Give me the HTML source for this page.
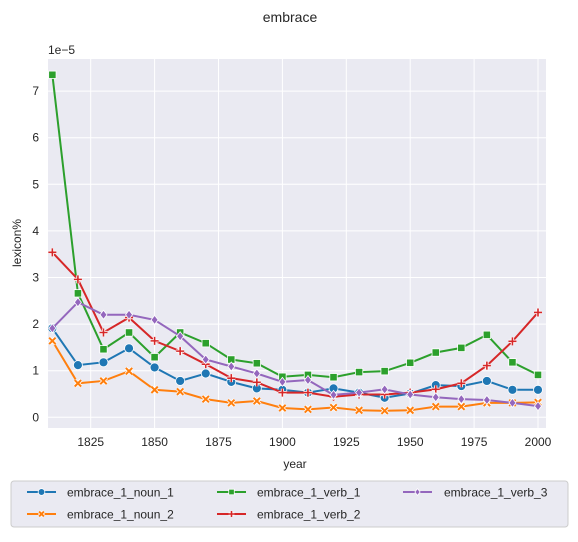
<!DOCTYPE html>
<html><head><meta charset="utf-8">
<style>
body{margin:0;background:#fff;font-family:"Liberation Sans",Arial,sans-serif;}
svg text{font-family:"Liberation Sans",Arial,sans-serif;fill:#262626;}
</style></head>
<body>
<svg id="chart" width="578" height="537" xmlns="http://www.w3.org/2000/svg">
<text x="290" y="22" font-size="14" text-anchor="middle">embrace</text>
<rect x="48" y="59" width="498" height="369" fill="#eaeaf2"/>
<g id="grid"></g>
<g id="series"></g>
<text x="48" y="54" font-size="12">1e−5</text>
<text x="0" y="0" font-size="12" text-anchor="middle" transform="translate(21,243) rotate(-90)">lexicon%</text>
<text x="295" y="468" font-size="12" text-anchor="middle">year</text>
<rect x="11" y="481" width="557" height="46" rx="3" fill="#eaeaf2" stroke="#cccccc"/>
<g id="legend"></g>
</svg>
<script>
const years=[1810,1820,1830,1840,1850,1860,1870,1880,1890,1900,1910,1920,1930,1940,1950,1960,1970,1980,1990,2000];
const noun1=[1.91,1.12,1.18,1.48,1.07,0.78,0.94,0.76,0.62,0.59,0.53,0.62,0.53,0.42,0.51,0.69,0.67,0.78,0.59,0.59];
const noun2=[1.64,0.73,0.78,0.99,0.59,0.55,0.39,0.31,0.35,0.20,0.17,0.21,0.15,0.14,0.15,0.23,0.23,0.31,0.31,0.32];
const verb1=[7.35,2.66,1.46,1.82,1.29,1.82,1.59,1.24,1.16,0.87,0.91,0.86,0.97,0.99,1.17,1.39,1.49,1.77,1.18,0.91];
const verb2=[3.54,2.96,1.82,2.14,1.64,1.42,1.14,0.84,0.75,0.53,0.53,0.44,0.49,0.49,0.53,0.60,0.73,1.11,1.63,2.25];
const verb3=[1.91,2.47,2.20,2.20,2.09,1.74,1.24,1.09,0.94,0.76,0.80,0.48,0.53,0.60,0.49,0.43,0.39,0.37,0.31,0.24];
const xTicks=[1825,1850,1875,1900,1925,1950,1975,2000];
const yTicks=[0,1,2,3,4,5,6,7];
const seriesNames=["embrace_1_noun_1","embrace_1_noun_2","embrace_1_verb_1","embrace_1_verb_2","embrace_1_verb_3"];

const NS="http://www.w3.org/2000/svg";
function X(v){return 90.7+(v-1825)*2.556;}
function Y(v){return 417.3-v*46.6;}
function mk(tag,attrs,parent){const e=document.createElementNS(NS,tag);for(const k in attrs)e.setAttribute(k,attrs[k]);parent.appendChild(e);return e;}
const grid=document.getElementById('grid'),svg=document.getElementById('chart');
xTicks.forEach(t=>{
 const l=mk('line',{x1:X(t),x2:X(t),y1:59,y2:428,stroke:'#fff','stroke-width':1},grid);
 
 
 const tx=mk('text',{x:X(t),y:446,'font-size':12,'text-anchor':'middle'},svg);
 tx.textContent=t;
 
 
});
yTicks.forEach(t=>{
 const l=mk('line',{x1:48,x2:546,y1:Y(t),y2:Y(t),stroke:'#fff','stroke-width':1},grid);
 
 
 const tx=mk('text',{x:39,y:Y(t)+4,'font-size':12,'text-anchor':'end'},svg);
 tx.textContent=t;
 
 
});
const colors=['#1f77b4','#ff7f0e','#2ca02c','#d62728','#9467bd'];
const markers=['circle','x','square','plus','diamond'];
function marker(g,type,x,y,c,s){
 if(type==='circle')return mk('circle',{cx:x,cy:y,r:4.5*s,fill:c,stroke:'#fff','stroke-width':0.8},g);
 if(type==='square')return mk('rect',{x:x-3.7*s,y:y-3.7*s,width:7.4*s,height:7.4*s,fill:c,stroke:'#fff','stroke-width':0.8},g);
 if(type==='diamond')return mk('path',{d:`M${x},${y-4.5*s}L${x+3.5*s},${y}L${x},${y+4.5*s}L${x-3.5*s},${y}Z`,fill:c,stroke:'#fff','stroke-width':0.8},g);
 const d=4*s;
 if(type==='plus'){mk('path',{d:`M${x-d},${y}H${x+d}M${x},${y-d}V${y+d}`,stroke:'#fff','stroke-width':3.2},g);return mk('path',{d:`M${x-d},${y}H${x+d}M${x},${y-d}V${y+d}`,stroke:c,'stroke-width':1.6},g);}
 const e=d*0.8;
 mk('path',{d:`M${x-e},${y-e}L${x+e},${y+e}M${x-e},${y+e}L${x+e},${y-e}`,stroke:'#fff','stroke-width':3.6},g);
 return mk('path',{d:`M${x-e},${y-e}L${x+e},${y+e}M${x-e},${y+e}L${x+e},${y-e}`,stroke:c,'stroke-width':2},g);
}
const data=[noun1,noun2,verb1,verb2,verb3];
const sg=document.getElementById('series');
data.forEach((vals,i)=>{
 const g=mk('g',{},sg);
 
 
 const p=mk('polyline',{points:vals.map((v,j)=>X(years[j])+','+Y(v)).join(' '),fill:'none',stroke:colors[i],'stroke-width':2},g);
 
 
 vals.forEach((v,j)=>{
  const m=marker(g,markers[i],X(years[j]),Y(v),colors[i],1);
  
  
 });
});
const lg=document.getElementById('legend');
const pos=[[27,492],[27,514],[217,492],[217,514],[403,492]];
const tpos=[67,67,257,257,444];
seriesNames.forEach((n,i)=>{
 const g=mk('g',{},lg);
 
 
 const [x,y]=pos[i];
 mk('line',{x1:x,x2:x+29,y1:y,y2:y,stroke:colors[i],'stroke-width':2},g);
 marker(g,markers[i],x+14.5,y,colors[i],0.75);
 const t=mk('text',{x:tpos[i],y:y+4.5,'font-size':12},g);
 t.textContent=n;
});
</script>
</body></html>
